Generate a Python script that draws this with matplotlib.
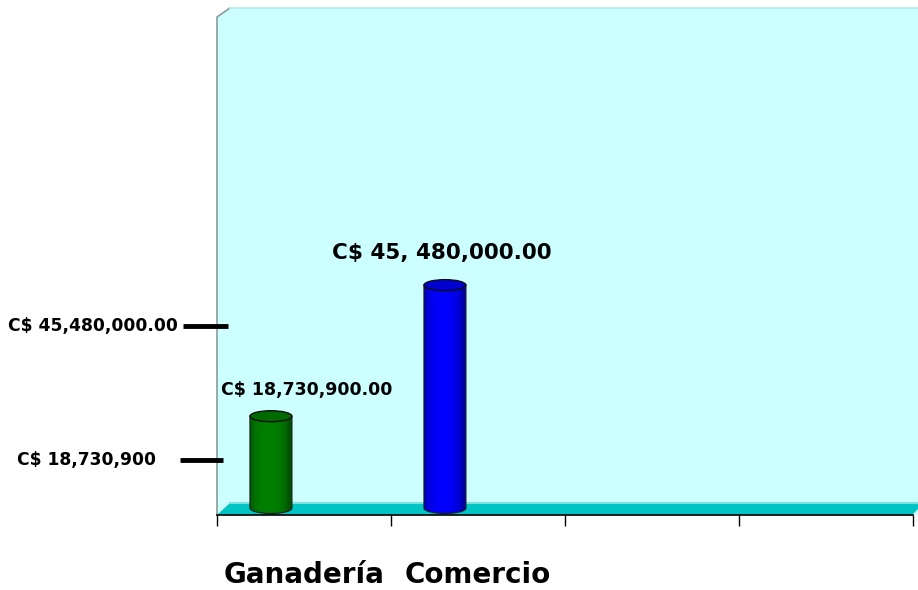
import numpy as np
import matplotlib
matplotlib.use("Agg")
import matplotlib.pyplot as plt
from matplotlib.patches import Polygon, Ellipse
from matplotlib.transforms import blended_transform_factory, offset_copy
from matplotlib.colors import to_rgb

# ---- data ----
categories = ["Ganadería", "Comercio", "", ""]
values = [18730900, 45480000]
bar_colors = ["#008000", "#0000FF"]
bar_labels = ["C$ 18,730,900.00", "C$ 45, 480,000.00"]
tick_values = [18730900, 45480000]
tick_labels = ["C$ 18,730,900", "C$ 45,480,000.00"]

plt.rcParams["font.family"] = ["DejaVu Sans"]

W, H = 918, 590
L, R, T, B = 217, 918, 8, 515          # plot wall in pixels
SLOT = 174                               # pixels per category slot
PX_PER_UNIT = 4.9 / 1e6                  # pixels per C$
ZERO_PX = 508

fig = plt.figure(figsize=(W / 100, H / 100), dpi=100)
ax = fig.add_axes([L / W, 1 - B / H, (R - L) / W, (B - T) / H])
ax.set_facecolor("none")
aw, ah = R - L, B - T

# ---- back wall + floor ----
bx, by = 13 / aw, 9 / ah
fy = 12 / ah
ax.add_patch(Polygon([(0, 0), (0, 1 - by), (bx, 1), (1, 1), (1, 0)], closed=True,
                     transform=ax.transAxes, facecolor="#CCFFFF", edgecolor="none", zorder=0))
ax.plot([0, 0, bx], [0, 1 - by, 1], transform=ax.transAxes, color="#8c9c9c",
        lw=1.2, zorder=1, clip_on=False)
ax.plot([bx, 1], [1, 1], transform=ax.transAxes, color="#b4eeee",
        lw=1.2, zorder=1, clip_on=False)
xr = (912 - L) / aw
ax.add_patch(Polygon([(0, 0), (bx, fy), (1, fy), (1, 6 / ah), (xr, 0)], closed=True,
                     transform=ax.transAxes, facecolor="#00C4C4", edgecolor="none", zorder=1))
ax.plot([bx, 1], [fy, fy], transform=ax.transAxes, color="#7FE0E0", lw=1.5, zorder=1)

# ---- cylinders ----
w = 42 / SLOT
eh = 11 / PX_PER_UNIT
for i, (v, c) in enumerate(zip(values, bar_colors)):
    cx = i + 0.31
    th = np.linspace(np.pi, 2 * np.pi, 60)
    pts = [(cx - w / 2, v)] + list(zip(cx + w / 2 * np.cos(th), eh / 2 * np.sin(th))) + [(cx + w / 2, v)]
    body = Polygon(pts, closed=True, facecolor="none", edgecolor="#1a1a1a", lw=0.8, zorder=4)
    ax.add_patch(body)
    t = np.linspace(0, 1, 80)
    shade = 0.66 + 0.34 * np.sin(np.pi * np.clip(t * 1.1, 0, 1)) ** 0.5
    base = np.array(to_rgb(c))
    grad = np.clip(shade[None, :, None] * base[None, None, :], 0, 1)
    im = ax.imshow(grad, extent=[cx - w / 2, cx + w / 2, -eh / 2, v], aspect="auto",
                   zorder=3, interpolation="bilinear")
    im.set_clip_path(body)
    top = Ellipse((cx, v), w, eh, facecolor=base * 0.82, edgecolor="#101010", lw=1, zorder=5)
    ax.add_patch(top)

ax.set_xlim(0, aw / SLOT)
ax.set_ylim(-(B - ZERO_PX) / PX_PER_UNIT, (ZERO_PX - T) / PX_PER_UNIT)

# ---- value labels ----
label_offsets = [(36, 26), (-3, 32)]
label_sizes = [12.5, 15.5]
for i, (v, txt) in enumerate(zip(values, bar_labels)):
    ax.annotate(txt, xy=(i + 0.31, v), xytext=label_offsets[i], textcoords="offset pixels",
                ha="center", va="center", fontsize=label_sizes[i], fontweight="bold",
                color="black", zorder=6)

# ---- hand-placed y ticks ----
tick_shift = [-44, -41]
mark_x = [(-37 / aw, 6 / aw), (-34 / aw, 11 / aw)]
text_x = [-61 / aw, -39 / aw]
for k, (v, txt) in enumerate(zip(tick_values, tick_labels)):
    tr = offset_copy(blended_transform_factory(ax.transAxes, ax.transData), fig=fig,
                     x=0, y=tick_shift[k], units="dots")
    ax.plot(list(mark_x[k]), [v, v], transform=tr, color="black", lw=3.5,
            solid_capstyle="butt", clip_on=False, zorder=6)
    ax.text(text_x[k], v, txt, transform=tr, ha="right", va="center",
            fontsize=12.3, fontweight="bold", color="black")

# ---- x axis ----
for s in ["top", "right", "left"]:
    ax.spines[s].set_visible(False)
ax.spines["bottom"].set_color("black")
ax.spines["bottom"].set_linewidth(1.2)
ax.spines["bottom"].set_bounds(0, 4)
ax.spines["bottom"].set_zorder(2)
ax.set_yticks([])
ax.set_xticks(range(5))
ax.set_xticklabels([])
ax.tick_params(axis="x", which="major", length=8, width=1, color="black", direction="out")
ax.set_xticks(np.arange(len(categories)) + 0.5, minor=True)
ax.set_xticklabels(categories, minor=True, fontsize=20, fontweight="bold")
ax.tick_params(axis="x", which="minor", length=0, pad=33)

fig.savefig("out.png", dpi=100)
